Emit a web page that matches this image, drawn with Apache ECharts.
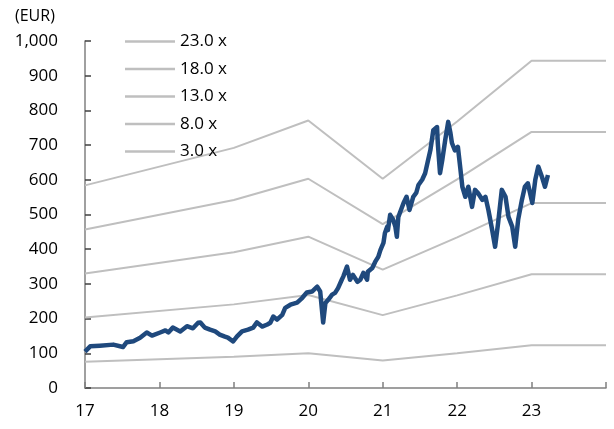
<!DOCTYPE html>
<html>
<head>
<meta charset="utf-8">
<script src="https://cdn.jsdelivr.net/npm/echarts@6/dist/echarts.min.js"></script>
<style>
  html, body { margin: 0; padding: 0; background: #fff; }
  #chart { width: 614px; height: 429px; }
</style>
</head>
<body>
<div id="chart"></div>
<script>
// Year positions of the P/E band breakpoints
const bandYears = [17, 19, 20, 21, 22, 23, 24];

// P/E band values (EUR) at each breakpoint
const band3 = [76, 90, 100, 79, 100, 123, 123];
const band8 = [203, 241, 268, 210, 267, 328, 328];
const band13 = [330, 391, 436, 341, 434, 533, 533];
const band18 = [457, 542, 603, 472, 601, 738, 738];
const band23 = [584, 692, 771, 603, 768, 943, 943];

const bandNames = ['23.0 x', '18.0 x', '13.0 x', '8.0 x', '3.0 x'];

// Share price (EUR) by fractional year
const priceYears = [
  17.00, 17.07, 17.20, 17.38, 17.51, 17.56, 17.65, 17.74, 17.83, 17.90,
  18.01, 18.08, 18.12, 18.18, 18.28, 18.37, 18.45, 18.52, 18.55, 18.61,
  18.68, 18.75, 18.81, 18.88, 18.92, 18.99, 19.04, 19.11, 19.19, 19.26,
  19.31, 19.38, 19.45, 19.49, 19.53, 19.58, 19.65, 19.69, 19.76, 19.85,
  19.92, 19.98, 20.05, 20.12, 20.16, 20.20, 20.23, 20.27, 20.32, 20.36,
  20.40, 20.45, 20.47, 20.52, 20.56, 20.60, 20.66, 20.70, 20.74, 20.79,
  20.80, 20.86, 20.90, 20.94, 20.97, 21.01, 21.03, 21.06, 21.07, 21.10,
  21.14, 21.17, 21.19, 21.21, 21.28, 21.32, 21.36, 21.41, 21.45, 21.48,
  21.53, 21.57, 21.61, 21.64, 21.68, 21.73, 21.74, 21.77, 21.80, 21.84,
  21.88, 21.91, 21.93, 21.97, 22.01, 22.04, 22.07, 22.11, 22.15, 22.20,
  22.24, 22.28, 22.34, 22.38, 22.42, 22.47, 22.51, 22.55, 22.60, 22.65,
  22.69, 22.74, 22.78, 22.82, 22.87, 22.91, 22.95, 23.01, 23.05, 23.09,
  23.14, 23.18, 23.22
];
const priceValues = [
  105, 120, 122, 125, 118, 132, 135, 145, 160, 151,
  160, 166, 160, 174, 163, 178, 172, 188, 189, 174,
  168, 163, 154, 148, 145, 134, 148, 163, 168, 174,
  189, 177, 183, 188, 206, 197, 211, 231, 240, 246,
  260, 275, 278, 292, 278, 189, 245, 255, 269, 274,
  288, 312, 321, 350, 312, 326, 306, 312, 332, 312,
  335, 346, 364, 378, 398, 418, 447, 465, 455, 499,
  485, 465, 436, 493, 533, 551, 513, 551, 562, 585,
  600, 619, 657, 685, 743, 752, 706, 619, 657, 715,
  767, 735, 706, 685, 695, 638, 580, 551, 580, 522,
  571, 562, 542, 551, 513, 456, 407, 475, 571, 551,
  493, 465, 407, 485, 542, 580, 590, 533, 600, 638,
  608, 580, 614
];

// Axis ticks
const xTicks = [17, 18, 19, 20, 21, 22, 23];
const yMin = 0, yMax = 1000, yStep = 100;

const pair = (xs, ys) => xs.map((x, i) => [x, ys[i]]);

const FONT = '"Open Sans", "Noto Sans", sans-serif';
const bandColor = '#BFBFBF';

const bandSeries = [band23, band18, band13, band8, band3].map((vals, i) => ({
  name: bandNames[i],
  type: 'line',
  data: pair(bandYears, vals),
  symbol: 'none',
  lineStyle: { color: bandColor, width: 2 },
  itemStyle: { color: bandColor },
  z: 1,
  silent: true
}));

const chart = echarts.init(document.getElementById('chart'), null, { renderer: 'canvas' });
chart.setOption({
  animation: false,
  backgroundColor: '#fff',
  textStyle: { fontFamily: FONT },
  grid: { left: 85, right: 8, top: 41, bottom: 41 },
  graphic: [{
    type: 'text',
    left: 15, top: 8,
    style: { text: '(EUR)', font: '16px ' + FONT, fill: '#000' }
  }],
  legend: {
    data: bandNames,
    orient: 'vertical',
    left: 120, top: 28,
    icon: 'rect',
    itemWidth: 50, itemHeight: 2.5,
    itemGap: 10.5,
    textStyle: { fontFamily: FONT, fontSize: 17, color: '#000' },
    selectedMode: false
  },
  xAxis: {
    type: 'value',
    min: 17, max: 24, interval: 1,
    axisLine: { show: true, lineStyle: { color: '#808080', width: 1.5 } },
    axisTick: { show: true, inside: true, length: 6, lineStyle: { color: '#808080', width: 1.5 } },
    axisLabel: {
      margin: 15, fontSize: 17, color: '#000', fontFamily: FONT,
      formatter: v => (xTicks.indexOf(v) >= 0 ? String(v) : '')
    },
    splitLine: { show: false }
  },
  yAxis: {
    type: 'value',
    min: yMin, max: yMax, interval: yStep,
    axisLine: { show: true, lineStyle: { color: '#808080', width: 1.5 } },
    axisTick: { show: true, inside: true, length: 6, lineStyle: { color: '#404040', width: 1.5 } },
    axisLabel: {
      margin: 27, fontSize: 17, color: '#000', fontFamily: FONT,
      formatter: v => v.toLocaleString('en-US')
    },
    splitLine: { show: false }
  },
  series: bandSeries.concat([{
    name: 'price',
    type: 'line',
    data: pair(priceYears, priceValues),
    symbol: 'none',
    lineStyle: { color: '#1F497D', width: 4.5, join: 'round' },
    z: 3,
    silent: true
  }])
});
</script>
</body>
</html>
